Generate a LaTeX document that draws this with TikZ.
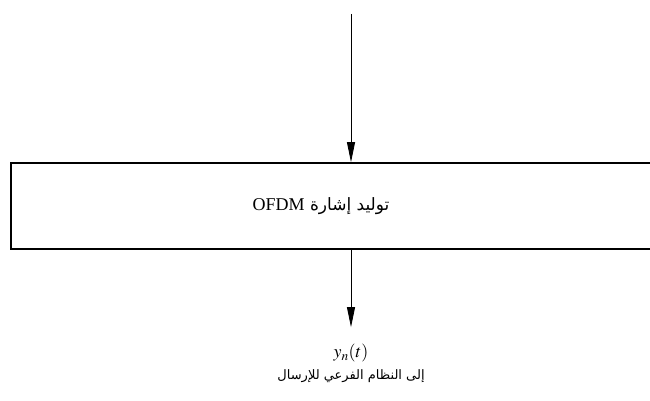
\documentclass[tikz,border=0pt]{standalone}
\usepackage{mathptmx}
\usepackage{fontspec}
\setmainfont{Liberation Serif}
\newfontfamily\arabicfont[Script=Arabic]{DejaVu Sans}
\TeXXeTstate=1
\usetikzlibrary{arrows.meta}
\begin{document}
\begin{tikzpicture}[x=1pt,y=1pt,>={Triangle[length=20pt,width=8pt]},font=\fontsize{18}{22}\selectfont]
	\useasboundingbox (0,0) rectangle (650,401);
	\coordinate (in) at (351,387);
	\node[draw,line width=1.6pt,minimum width=680pt,minimum height=86pt,inner sep=0pt] (ofdm) at (351,195) {};
	\node[] (lbl) at (321,195) {\arabicfont\fontsize{17}{20}\selectfont\beginR توليد إشارة {\rmfamily\fontsize{18}{20}\selectfont\beginL OFDM\endL}\endR};
	\node[anchor=base,outer ysep=14pt] (yn) at (351,43) {$y_n(t)$};
	\node[anchor=base] (dest) at (351,21) {\arabicfont\fontsize{13}{15}\selectfont\beginR إلى النظام الفرعي للإرسال\endR};
	\draw[->,line width=0.8pt] (in) -- (ofdm.north);
	\draw[->,line width=0.8pt] (ofdm.south) -- (yn.north);
\end{tikzpicture}
\end{document}
